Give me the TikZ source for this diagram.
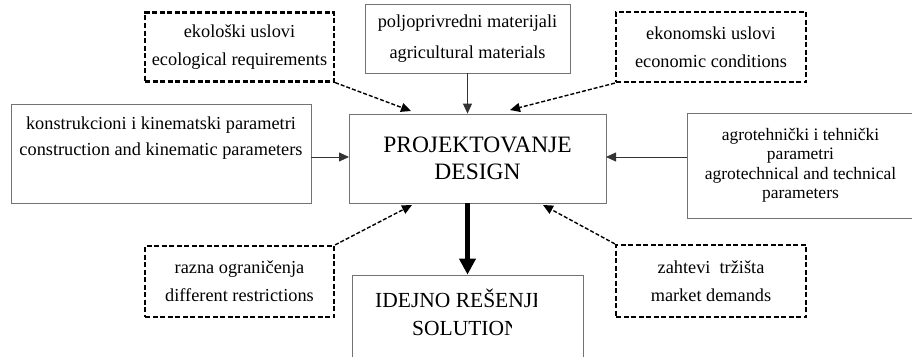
\documentclass[tikz,border=0pt]{standalone}
\usepackage{fontspec}
\setmainfont{Liberation Serif}
\usetikzlibrary{arrows.meta}
\begin{document}
\begin{tikzpicture}[x=1pt,y=-1pt,
  plainbox/.style={draw=black!55,line width=0.8pt,inner sep=0pt,align=center,
     font=\fontsize{18.3}{27}\selectfont},
  dashbox/.style={draw=black,line width=2.2pt,dash pattern=on 5pt off 2.5pt,
     inner sep=0pt,align=center,font=\fontsize{18.3}{28}\selectfont},
  thinarrow/.style={draw=black!80,line width=0.8pt,-{Triangle[length=10pt,width=9pt]}},
  dasharrow/.style={draw=black,line width=1.4pt,dash pattern=on 4pt off 2pt,
     -{Triangle[length=10pt,width=9pt]}},
  bigarrow/.style={draw=black,line width=5pt,-{Triangle[length=16pt,width=16pt]}},
  bigtext/.style={inner sep=0pt,anchor=west,font=\fontsize{21.5}{25}\selectfont},
  cover/.style={fill=white,draw=none}
]
\useasboundingbox (0,0) rectangle (912,356);
\fill[white] (0,0) rectangle (912,356);

% boxes
\node[dashbox,minimum width=189pt,minimum height=69pt] (eco) at (239.5,47)
  {ekološki uslovi\\ecological requirements};
\node[plainbox,minimum width=205pt,minimum height=69pt,
  font=\fontsize{18.3}{31}\selectfont] (agri) at (467.5,38.5)
  {poljoprivredni materijali\\agricultural materials};
\node[dashbox,minimum width=190pt,minimum height=70pt] (econ) at (711,47)
  {ekonomski uslovi\\economic conditions};
\node[plainbox,minimum width=300pt,minimum height=99pt,
  font=\fontsize{18.3}{26}\selectfont] (konstr) at (161,153.5)
  {konstrukcioni i kinematski parametri\\construction and kinematic parameters\\[8pt]};
\node[plainbox,minimum width=257pt,minimum height=89pt,
  font=\fontsize{23.5}{27}\selectfont] (proj) at (477.5,158.5)
  {PROJEKTOVANJE\\DESIGN};
\node[plainbox,minimum width=227pt,minimum height=105pt,
  font=\fontsize{17.5}{19.5}\selectfont] (agro) at (800.5,165.5)
  {agrotehnički i tehnički\\parametri\\agrotechnical and technical\\parameters};
\node[dashbox,minimum width=189pt,minimum height=71pt] (razna) at (239.5,281.5)
  {razna ograničenja\\different restrictions};
\node[dashbox,minimum width=190pt,minimum height=72pt] (market) at (711,281)
  {zahtevi\ \ tržišta\\market demands};
\node[plainbox,minimum width=231pt,minimum height=95pt] (ideja) at (467.5,322.5) {};
\node[bigtext] (ide1) at (375,298) {IDEJNO REŠENJE};
\node[bigtext] (ide2) at (412,328) {SOLUTION};
% the text frame cuts the ends of both lines
\path[cover] ([xshift=-9pt,yshift=-14pt]ide1.east) rectangle ([xshift=6pt,yshift=14pt]ide1.east);
\path[cover] ([xshift=-8pt,yshift=-14pt]ide2.east) rectangle ([xshift=6pt,yshift=14pt]ide2.east);

% arrow tips
\coordinate (teco) at (411,111);
\coordinate (tecon) at (510,110);
\coordinate (traz) at (412,205);
\coordinate (tmar) at (543,205);
\coordinate (pl) at (349,157);
\coordinate (pr) at (606,157);

% connectors
\draw[dasharrow] (eco.south east) -- (teco);
\draw[thinarrow] (agri.south) -- (agri.south |- proj.north);
\draw[dasharrow] (econ.south west) -- (tecon);
\draw[thinarrow] (konstr.east |- pl) -- (pl);
\draw[thinarrow] (agro.west |- pr) -- (pr);
\draw[dasharrow] (razna.north east) -- (traz);
\draw[dasharrow] (market.north west) -- (tmar);
\draw[bigarrow] (ideja.north |- proj.south) -- (ideja.north);
\end{tikzpicture}
\end{document}
